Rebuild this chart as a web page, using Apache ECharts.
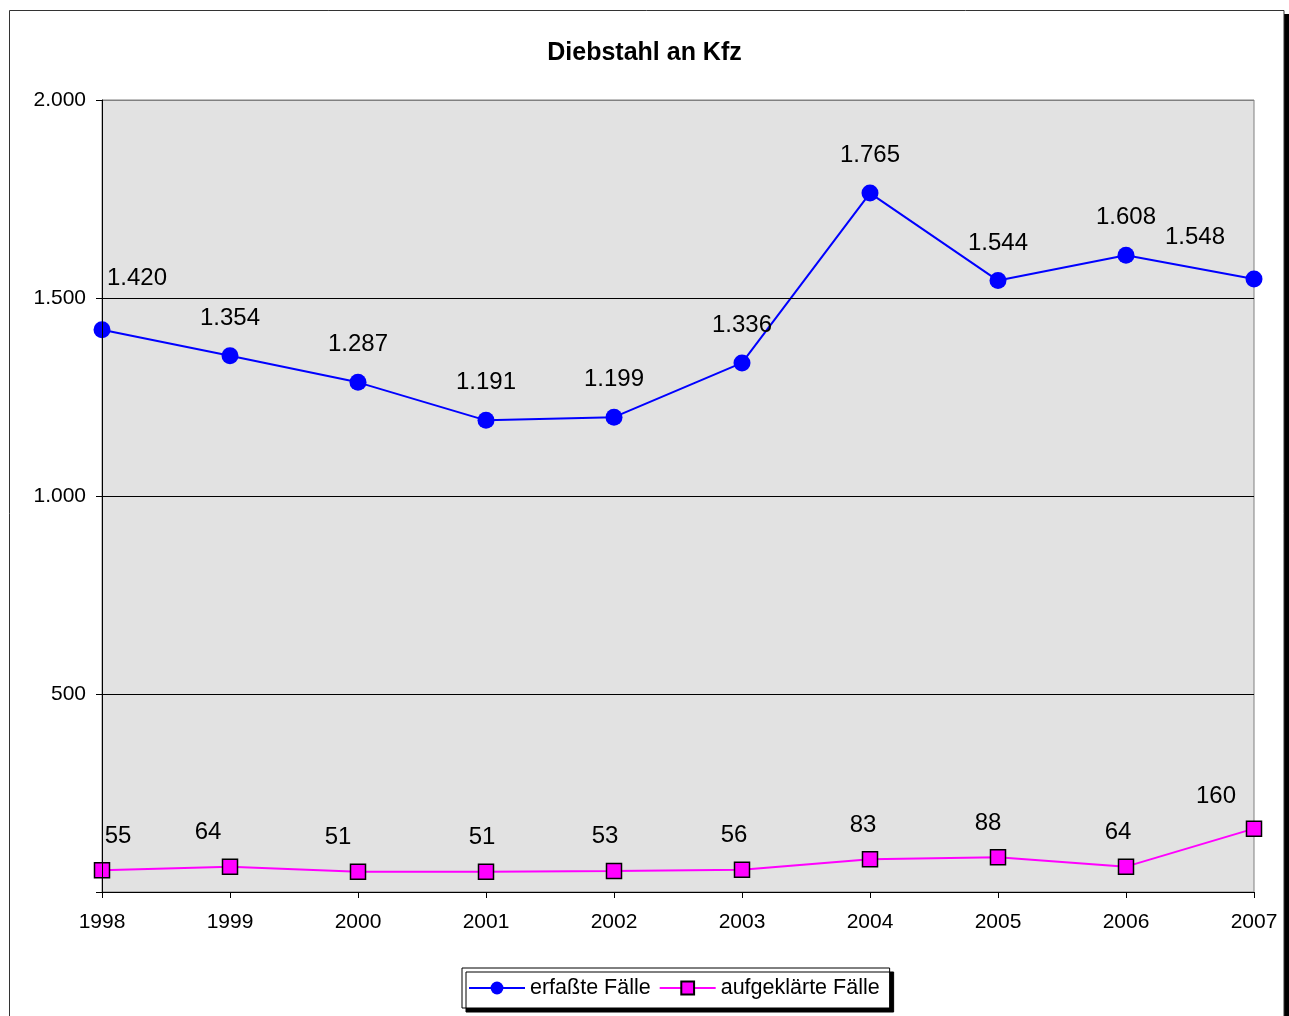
<!DOCTYPE html>
<html>
<head>
<meta charset="utf-8">
<script src="https://cdn.jsdelivr.net/npm/echarts@6/dist/echarts.min.js"></script>
<style>
html,body{margin:0;padding:0;background:#fff;}
#c{width:1289px;height:1016px;}
</style>
</head>
<body>
<div id="c"></div>
<script>
const years = ['1998','1999','2000','2001','2002','2003','2004','2005','2006','2007'];
const erfasst = [1420, 1354, 1287, 1191, 1199, 1336, 1765, 1544, 1608, 1548];
const aufgeklaert = [55, 64, 51, 51, 53, 56, 83, 88, 64, 160];
const yTicks = [0, 500, 1000, 1500, 2000];

// label nudges (styling only)
const blueShift = [[35,-14],[0,0],[0,0],[0,0],[0,0],[0,0],[0,0],[0,0],[0,0],[-59,-4]];
const pinkShift = [[16,0],[-22,0],[-20,0],[-4,0],[-9,0],[-8,0],[-7,0],[-10,0],[-8,0],[-38,2]];

function de(v){
  const s = String(Math.round(v));
  return s.replace(/\B(?=(\d{3})+(?!\d))/g, '.');
}
const FONT = '"Liberation Sans", Arial, sans-serif';

const chart = echarts.init(document.getElementById('c'), null, {renderer:'canvas'});
chart.setOption({
  animation: false,
  backgroundColor: '#ffffff',
  textStyle: {fontFamily: FONT},
  title: {
    text: 'Diebstahl an Kfz',
    left: 'center',
    top: 36,
    textStyle: {fontFamily: FONT, fontWeight: 'bold', fontSize: 25, color: '#000'}
  },
  graphic: [
    {type:'rect', shape:{x:1284, y:14, width:5, height:1010}, style:{fill:'#000'}, z:0},
    {type:'rect', shape:{x:9.5, y:10.5, width:1274.5, height:1020}, style:{fill:'none', stroke:'#333', lineWidth:1}, z:0}
  ],
  legend: {
    left: 462,
    top: 968,
    data: ['erfaßte Fälle', 'aufgeklärte Fälle'],
    itemWidth: 56,
    itemHeight: 16,
    itemGap: 8,
    padding: [9, 10, 9, 6],
    backgroundColor: '#fff',
    borderColor: '#000',
    borderWidth: 1,
    borderRadius: 0,
    shadowColor: '#000',
    shadowOffsetX: 4,
    shadowOffsetY: 4,
    shadowBlur: 0,
    textStyle: {fontFamily: FONT, fontSize: 21.5, color: '#000', padding: [0,0,0,0]}
  },
  grid: {left: 102, right: 35, top: 100, bottom: 124, containLabel: false,
         show: true, backgroundColor: '#e2e2e2', borderWidth: 1, borderColor: '#808080'},
  xAxis: {
    type: 'category',
    data: years,
    boundaryGap: false,
    axisLine: {show: true, lineStyle: {color: '#000', width: 1}},
    axisTick: {show: true, alignWithLabel: true, length: 6, lineStyle: {color: '#000'}},
    axisLabel: {fontFamily: FONT, fontSize: 21, color: '#000', margin: 20},
    splitLine: {show: false},
    z: 5
  },
  yAxis: [{
    type: 'value',
    min: 0, max: 2000, interval: 500,
    axisLine: {show: true, lineStyle: {color: '#000', width: 1}},
    axisTick: {show: true, length: 6, lineStyle: {color: '#000'}},
    axisLabel: {fontFamily: FONT, fontSize: 21, color: '#000', margin: 16,
      formatter: v => yTicks.includes(v) && v !== 0 ? de(v) : ''},
    splitLine: {show: true, lineStyle: {color: ['#000','#000','#000','#000','#808080'], width: 1}},
    z: 5
  }],
  series: [
    {
      name: 'erfaßte Fälle',
      type: 'line',
      data: erfasst.map((v,i) => ({value: v, label: {offset: blueShift[i]}})),
      color: '#0000ff',
      lineStyle: {color: '#0000ff', width: 2},
      symbol: 'circle',
      symbolSize: 17,
      itemStyle: {color: '#0000ff', borderWidth: 0},
      label: {show: true, position: 'top', distance: 17, fontFamily: FONT, fontSize: 24, color: '#000',
        formatter: p => de(p.value)},
      z: 3
    },
    {
      name: 'aufgeklärte Fälle',
      type: 'line',
      data: aufgeklaert.map((v,i) => ({value: v, label: {offset: pinkShift[i]}})),
      color: '#ff00ff',
      lineStyle: {color: '#ff00ff', width: 2},
      symbol: 'rect',
      symbolSize: 15,
      itemStyle: {color: '#ff00ff', borderColor: '#000', borderWidth: 1.5},
      label: {show: true, position: 'top', distance: 14, fontFamily: FONT, fontSize: 24, color: '#000',
        formatter: p => de(p.value)},
      z: 3
    }
  ]
});
</script>
</body>
</html>
